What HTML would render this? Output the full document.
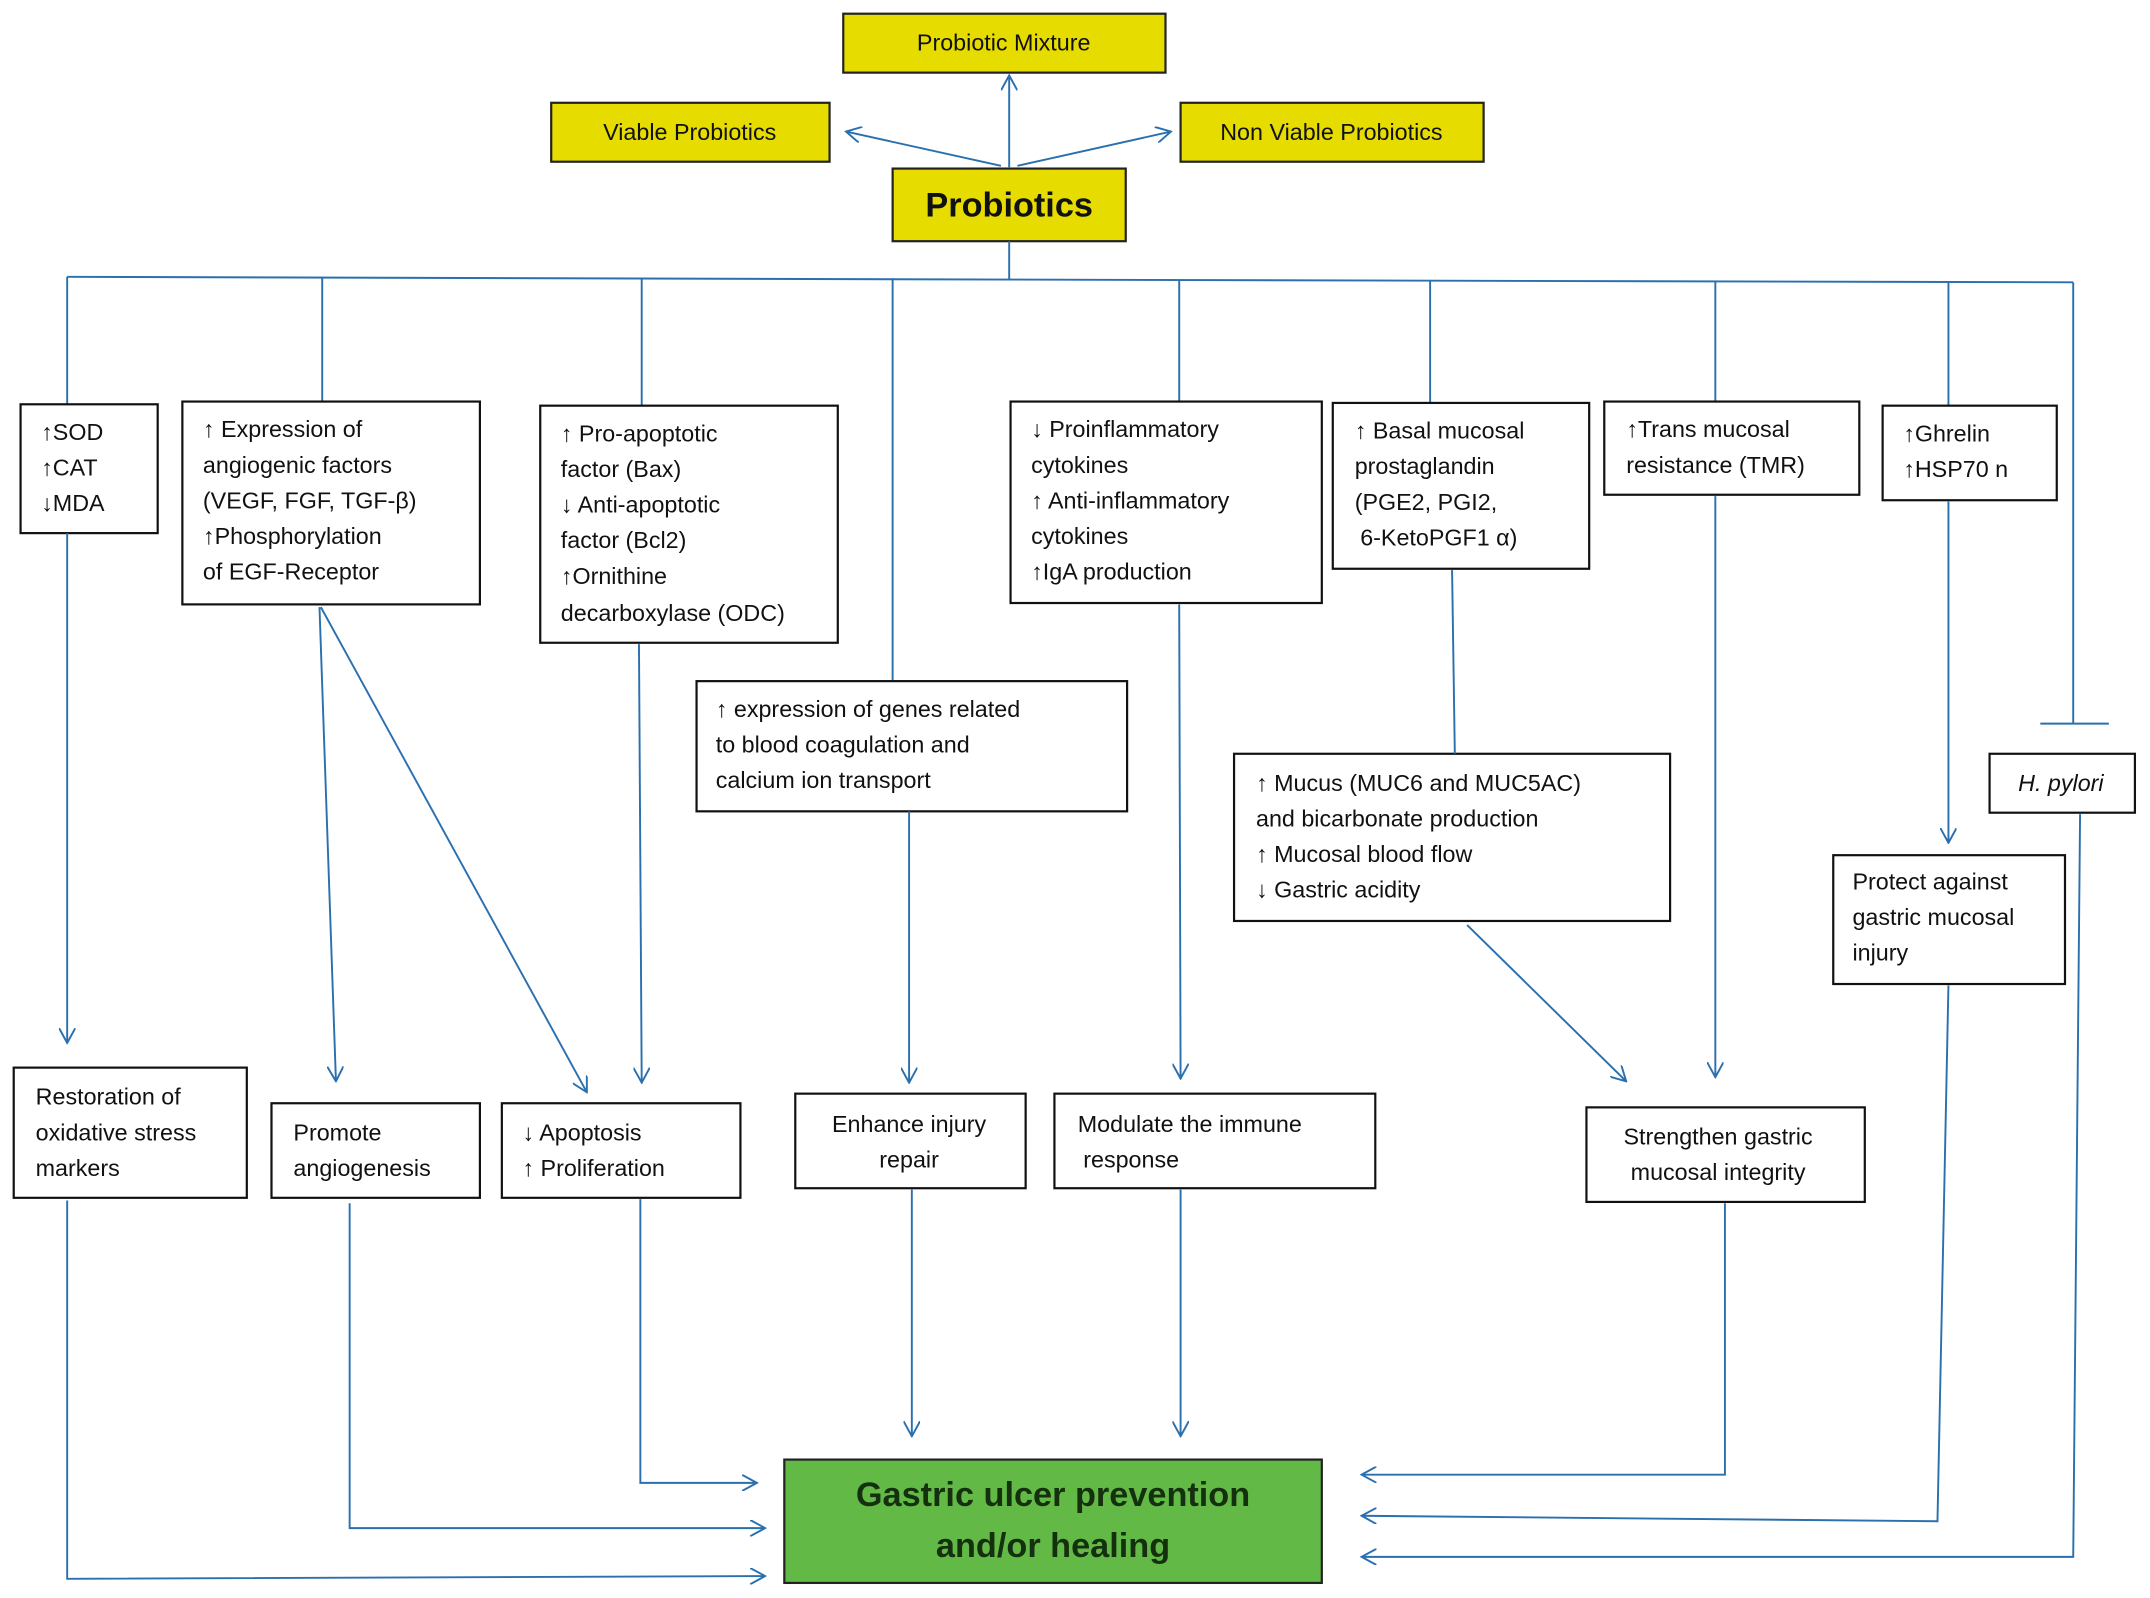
<!DOCTYPE html>
<html><head><meta charset="utf-8"><style>
html,body{margin:0;padding:0;background:#fff;}
svg{display:block}
text{font-family:"Liberation Sans",sans-serif;font-size:17px;fill:#111;}
.b{fill:#fff;stroke:#111;stroke-width:1.6}
.y{fill:#e6dc00;stroke:#222;stroke-width:1.6}
.l{stroke:#2a6fae;stroke-width:1.4;fill:none}
.a{stroke:#2a6fae;stroke-width:1.4;fill:none;marker-end:url(#ar)}
</style></head><body>
<svg width="2150" height="1598" viewBox="0 0 1568 1166" preserveAspectRatio="none" xmlns="http://www.w3.org/2000/svg">
<defs><marker id="ar" viewBox="0 0 12 12" refX="11" refY="6" markerWidth="12" markerHeight="12" markerUnits="userSpaceOnUse" orient="auto"><path d="M0,0 L11,6 L0,12" fill="none" stroke="#2a6fae" stroke-width="1.4"/></marker></defs>

<!-- top boxes -->
<rect class="y" x="615" y="10" width="235" height="43"/>
<text x="732" y="37" text-anchor="middle">Probiotic Mixture</text>
<rect class="y" x="402" y="75" width="203" height="43"/>
<text x="503" y="102" text-anchor="middle">Viable Probiotics</text>
<rect class="y" x="861" y="75" width="221" height="43"/>
<text x="971" y="102" text-anchor="middle">Non Viable Probiotics</text>
<rect class="y" x="651" y="123" width="170" height="53"/>
<text x="736" y="158" text-anchor="middle" style="font-size:25px;font-weight:bold">Probiotics</text>

<path class="a" d="M736,122 L736,55"/>
<path class="a" d="M730,121 L617,96"/>
<path class="a" d="M742,121 L854,96"/>
<path class="l" d="M736,176 L736,204"/>
<path class="l" d="M49,202 L736,204 L1512,206"/>
<path class="l" d="M49,202 L49,295 M235,202 L235,293 M468,203 L468,296 M651,203 L651,497 M860,204 L860,293 M1043,205 L1043,294 M1251,205 L1251,293 M1421,206 L1421,296 M1512,206 L1512,528 M1488,528 L1538,528"/>

<!-- middle boxes -->
<rect class="b" x="15" y="295" width="100" height="94"/>
<text x="30" y="321">↑SOD</text><text x="30" y="347">↑CAT</text><text x="30" y="373">↓MDA</text>

<rect class="b" x="133" y="293" width="217" height="148"/>
<text x="148" y="319">↑ Expression of</text><text x="148" y="345">angiogenic factors</text><text x="148" y="371">(VEGF,  FGF, TGF-β)</text><text x="148" y="397">↑Phosphorylation</text><text x="148" y="423">of EGF-Receptor</text>

<rect class="b" x="394" y="296" width="217" height="173"/>
<text x="409" y="322">↑ Pro-apoptotic</text><text x="409" y="348">factor (Bax)</text><text x="409" y="374">↓ Anti-apoptotic</text><text x="409" y="400">factor (Bcl2)</text><text x="409" y="426">↑Ornithine</text><text x="409" y="453">decarboxylase (ODC)</text>

<rect class="b" x="508" y="497" width="314" height="95"/>
<text x="522" y="523">↑ expression of genes  related</text><text x="522" y="549">to blood coagulation and</text><text x="522" y="575">calcium ion transport</text>

<rect class="b" x="737" y="293" width="227" height="147"/>
<text x="752" y="319">↓ Proinflammatory</text><text x="752" y="345">cytokines</text><text x="752" y="371">↑ Anti-inflammatory</text><text x="752" y="397">cytokines</text><text x="752" y="423">↑IgA production</text>

<rect class="b" x="972" y="294" width="187" height="121"/>
<text x="988" y="320">↑ Basal mucosal</text><text x="988" y="346">prostaglandin</text><text x="988" y="372">(PGE2, PGI2,</text><text x="992" y="398">6-KetoPGF1 α)</text>

<rect class="b" x="1170" y="293" width="186" height="68"/>
<text x="1186" y="319">↑Trans mucosal</text><text x="1186" y="345">resistance (TMR)</text>

<rect class="b" x="1373" y="296" width="127" height="69"/>
<text x="1388" y="322">↑Ghrelin</text><text x="1388" y="348">↑HSP70 n</text>

<rect class="b" x="900" y="550" width="318" height="122"/>
<text x="916" y="577">↑ Mucus (MUC6 and MUC5AC)</text><text x="916" y="603">and bicarbonate production</text><text x="916" y="629">↑ Mucosal blood flow</text><text x="916" y="655">↓ Gastric acidity</text>

<rect class="b" x="1451" y="550" width="106" height="43"/>
<text x="1503" y="577" text-anchor="middle" style="font-style:italic">H. pylori</text>

<rect class="b" x="1337" y="624" width="169" height="94"/>
<text x="1351" y="649">Protect against</text><text x="1351" y="675">gastric mucosal</text><text x="1351" y="701">injury</text>

<!-- lower boxes -->
<rect class="b" x="10" y="779" width="170" height="95"/>
<text x="26" y="806">Restoration of</text><text x="26" y="832">oxidative stress</text><text x="26" y="858">markers</text>
<rect class="b" x="198" y="805" width="152" height="69"/>
<text x="214" y="832">Promote</text><text x="214" y="858">angiogenesis</text>
<rect class="b" x="366" y="805" width="174" height="69"/>
<text x="381" y="832">↓ Apoptosis</text><text x="381" y="858">↑ Proliferation</text>
<rect class="b" x="580" y="798" width="168" height="69"/>
<text x="663" y="826" text-anchor="middle">Enhance injury</text><text x="663" y="852" text-anchor="middle">repair</text>
<rect class="b" x="769" y="798" width="234" height="69"/>
<text x="786" y="826">Modulate the  immune</text><text x="790" y="852">response</text>
<rect class="b" x="1157" y="808" width="203" height="69"/>
<text x="1253" y="835" text-anchor="middle">Strengthen  gastric</text><text x="1253" y="861" text-anchor="middle">mucosal integrity</text>

<rect x="572" y="1065" width="392" height="90" fill="#62b946" stroke="#222" stroke-width="1.6"/>
<text x="768" y="1099" text-anchor="middle" style="font-size:25px;font-weight:bold;fill:#15300f">Gastric ulcer prevention</text>
<text x="768" y="1136" text-anchor="middle" style="font-size:25px;font-weight:bold;fill:#15300f">and/or healing</text>

<!-- connectors -->
<path class="a" d="M49,389 L49,761"/>
<path class="a" d="M49,876 L49,1152 L558,1150"/>
<path class="a" d="M233,443 L245,789"/>
<path class="a" d="M234,443 L428,797"/>
<path class="a" d="M466,470 L468,790"/>
<path class="a" d="M663,592 L663,790"/>
<path class="a" d="M860,441 L861,787"/>
<path class="l" d="M1059,416 L1061,550"/>
<path class="a" d="M1070,675 L1186,789"/>
<path class="a" d="M1251,362 L1251,786"/>
<path class="a" d="M1421,366 L1421,615"/>
<path class="a" d="M1517,594 L1512,1136 L993,1136"/>
<path class="a" d="M1421,719 L1413,1110 L993,1106"/>
<path class="a" d="M1258,878 L1258,1076 L993,1076"/>
<path class="a" d="M255,878 L255,1115 L558,1115"/>
<path class="a" d="M467,875 L467,1082 L552,1082"/>
<path class="a" d="M665,868 L665,1048"/>
<path class="a" d="M861,868 L861,1048"/>
</svg>
</body></html>
